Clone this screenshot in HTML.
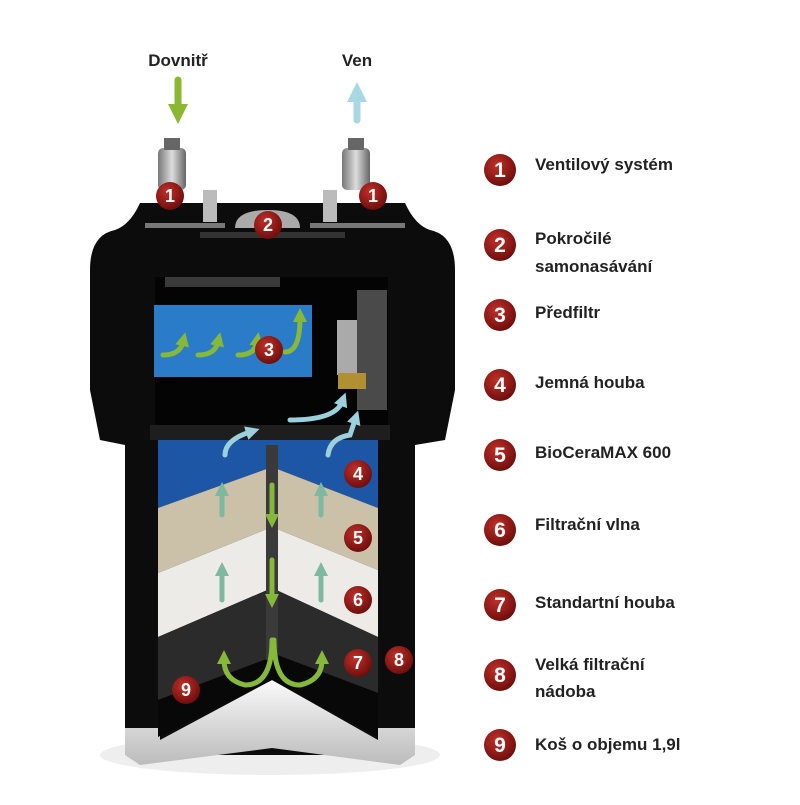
<!DOCTYPE html>
<html><head><meta charset="utf-8"><style>
body{margin:0;background:#fff;width:800px;height:800px;overflow:hidden;font-family:"Liberation Sans",sans-serif}
</style></head><body>
<svg width="800" height="800" viewBox="0 0 800 800" xmlns="http://www.w3.org/2000/svg">
<defs>
<radialGradient id="b" cx="40%" cy="35%" r="70%"><stop offset="0" stop-color="#c0302a"/><stop offset="1" stop-color="#6a0c0a"/></radialGradient>
<linearGradient id="sk" x1="0" y1="0" x2="0" y2="1"><stop offset="0" stop-color="#fafafa"/><stop offset="1" stop-color="#bbb"/></linearGradient>
<linearGradient id="cap" x1="0" y1="0" x2="1" y2="0"><stop offset="0" stop-color="#777"/><stop offset=".5" stop-color="#ddd"/><stop offset="1" stop-color="#666"/></linearGradient>
<marker id="ag" markerUnits="userSpaceOnUse" markerWidth="14" markerHeight="14" refX="4" refY="7" orient="auto"><path d="M0,0L14,7L0,14z" fill="#86b83a"/></marker>
<marker id="ab" markerUnits="userSpaceOnUse" markerWidth="14" markerHeight="14" refX="4" refY="7" orient="auto"><path d="M0,0L14,7L0,14z" fill="#9cd0dc"/></marker>
<marker id="at" markerUnits="userSpaceOnUse" markerWidth="14" markerHeight="14" refX="4" refY="7" orient="auto"><path d="M0,0L14,7L0,14z" fill="#7fb8a0"/></marker>
<marker id="ag2" markerUnits="userSpaceOnUse" markerWidth="20" markerHeight="20" refX="4" refY="10" orient="auto"><path d="M0,0L20,10L0,20z" fill="#8ab832"/></marker>
<marker id="ab2" markerUnits="userSpaceOnUse" markerWidth="20" markerHeight="20" refX="4" refY="10" orient="auto"><path d="M0,0L20,10L0,20z" fill="#a8d8e4"/></marker>
</defs>
<ellipse cx="270" cy="755" rx="170" ry="20" fill="#eee"/>
<path d="M140 203 L405 203 Q415 225 430 230 Q455 235 455 270 L455 390 L445 440 L415 445 L415 745 L400 755 L140 755 L125 745 L125 445 L100 440 L90 390 L90 270 Q90 235 115 230 Q130 225 140 203Z" fill="#0c0c0c"/>
<rect x="145" y="223" width="80" height="5" fill="#777"/>
<rect x="310" y="223" width="95" height="5" fill="#777"/>
<rect x="200" y="232" width="145" height="6" fill="#333"/>
<path d="M235 228 Q235 210 268 210 Q300 210 300 228Z" fill="#aaa"/>
<rect x="203" y="190" width="14" height="32" fill="#bbb"/>
<rect x="323" y="190" width="14" height="32" fill="#bbb"/>
<rect x="158" y="148" width="28" height="42" rx="5" fill="url(#cap)"/>
<rect x="164" y="138" width="16" height="12" fill="#666"/>
<rect x="342" y="148" width="28" height="42" rx="5" fill="url(#cap)"/>
<rect x="348" y="138" width="16" height="12" fill="#666"/>
<rect x="155" y="277" width="233" height="160" fill="#040404"/>
<rect x="165" y="277" width="115" height="10" fill="#3a3a3a"/>
<rect x="154" y="305" width="158" height="72" fill="#2a7cc8"/>
<rect x="357" y="290" width="30" height="120" fill="#4a4a4a"/>
<rect x="337" y="320" width="20" height="55" fill="#aaa"/>
<rect x="338" y="373" width="28" height="16" fill="#b09030"/>
<rect x="150" y="425" width="240" height="15" fill="#1e1e1e"/>
<path d="M125 728 L160 728 L160 740 L272 680 L378 740 L378 728 L415 728 L415 755 L400 765 L272 748 L140 765 L125 755Z" fill="url(#sk)"/>
<polygon points="158,440 272,440 272,467 158,508" fill="#1e56a6"/>
<polygon points="158,508 272,467 272,527 158,573" fill="#cbc0a8"/>
<polygon points="158,573 272,527 272,588 158,637" fill="#ecebe7"/>
<polygon points="158,637 272,588 272,657 158,700" fill="#2b2b2b"/>
<polygon points="158,700 272,657 272,680 158,737" fill="#080808"/>
<polygon points="378,440 272,440 272,467 378,508" fill="#1e56a6"/>
<polygon points="378,508 272,467 272,527 378,570" fill="#cbc0a8"/>
<polygon points="378,570 272,527 272,588 378,637" fill="#ecebe7"/>
<polygon points="378,637 272,588 272,653 378,693" fill="#2b2b2b"/>
<polygon points="378,693 272,653 272,680 378,737" fill="#080808"/>
<rect x="266" y="445" width="12" height="215" fill="#3a3a3a"/>
<g fill="none" stroke-width="5" stroke-linecap="round">
<path d="M272 485 L272 518" stroke="#86b83a" marker-end="url(#ag)"/>
<path d="M272 560 L272 598" stroke="#86b83a" marker-end="url(#ag)"/>
<path d="M272 640 Q272 685 245 685 Q224 680 224 660" stroke="#86b83a" marker-end="url(#ag)"/>
<path d="M274 640 Q274 685 300 685 Q322 680 322 660" stroke="#86b83a" marker-end="url(#ag)"/>
<path d="M222 515 L222 492" stroke="#7fb8a0" marker-end="url(#at)"/>
<path d="M222 600 L222 572" stroke="#7fb8a0" marker-end="url(#at)"/>
<path d="M321 515 L321 492" stroke="#7fb8a0" marker-end="url(#at)"/>
<path d="M321 600 L321 572" stroke="#7fb8a0" marker-end="url(#at)"/>
<path d="M225 455 Q225 440 250 432" stroke="#9cd0dc" marker-end="url(#ab)"/>
<path d="M290 420 Q335 420 342 402" stroke="#9cd0dc" marker-end="url(#ab)"/>
<path d="M328 455 Q330 438 350 435 L355 420" stroke="#9cd0dc" marker-end="url(#ab)"/>
<path d="M163 355 Q180 355 183 342" stroke="#86b83a" marker-end="url(#ag)"/>
<path d="M198 355 Q215 355 218 342" stroke="#86b83a" marker-end="url(#ag)"/>
<path d="M238 355 Q255 355 257 342" stroke="#86b83a" marker-end="url(#ag)"/>
<path d="M285 352 Q300 352 300 318" stroke="#86b83a" marker-end="url(#ag)"/>
<path d="M178 80 L178 108" stroke="#8ab832" stroke-width="7" marker-end="url(#ag2)"/>
<path d="M357 120 L357 98" stroke="#a8d8e4" stroke-width="7" marker-end="url(#ab2)"/>
</g>
<text x="178" y="66" font-size="17" font-weight="bold" text-anchor="middle" fill="#222">Dovnitř</text>
<text x="357" y="66" font-size="17" font-weight="bold" text-anchor="middle" fill="#222">Ven</text>
<g font-size="18" font-weight="bold" fill="#fff" text-anchor="middle">
<circle cx="170" cy="196" r="14" fill="url(#b)"/><text x="170" y="202">1</text>
<circle cx="373" cy="196" r="14" fill="url(#b)"/><text x="373" y="202">1</text>
<circle cx="268" cy="225" r="14" fill="url(#b)"/><text x="268" y="231">2</text>
<circle cx="269" cy="350" r="14" fill="url(#b)"/><text x="269" y="356">3</text>
<circle cx="358" cy="474" r="14" fill="url(#b)"/><text x="358" y="480">4</text>
<circle cx="358" cy="538" r="14" fill="url(#b)"/><text x="358" y="544">5</text>
<circle cx="358" cy="600" r="14" fill="url(#b)"/><text x="358" y="606">6</text>
<circle cx="358" cy="663" r="14" fill="url(#b)"/><text x="358" y="669">7</text>
<circle cx="399" cy="660" r="14" fill="url(#b)"/><text x="399" y="666">8</text>
<circle cx="186" cy="690" r="14" fill="url(#b)"/><text x="186" y="696">9</text>
</g>
<g font-size="21" font-weight="bold" fill="#fff" text-anchor="middle">
<circle cx="500" cy="170" r="16" fill="url(#b)"/><text x="500" y="177">1</text>
<circle cx="500" cy="245" r="16" fill="url(#b)"/><text x="500" y="252">2</text>
<circle cx="500" cy="315" r="16" fill="url(#b)"/><text x="500" y="322">3</text>
<circle cx="500" cy="385" r="16" fill="url(#b)"/><text x="500" y="392">4</text>
<circle cx="500" cy="455" r="16" fill="url(#b)"/><text x="500" y="462">5</text>
<circle cx="500" cy="530" r="16" fill="url(#b)"/><text x="500" y="537">6</text>
<circle cx="500" cy="605" r="16" fill="url(#b)"/><text x="500" y="612">7</text>
<circle cx="500" cy="675" r="16" fill="url(#b)"/><text x="500" y="682">8</text>
<circle cx="500" cy="745" r="16" fill="url(#b)"/><text x="500" y="752">9</text>
</g>
<g font-size="17" font-weight="bold" fill="#222">
<text x="535" y="170">Ventilový systém</text>
<text x="535" y="244">Pokročilé</text>
<text x="535" y="272">samonasávání</text>
<text x="535" y="318">Předfiltr</text>
<text x="535" y="388">Jemná houba</text>
<text x="535" y="458">BioCeraMAX 600</text>
<text x="535" y="530">Filtrační vlna</text>
<text x="535" y="608">Standartní houba</text>
<text x="535" y="670">Velká filtrační</text>
<text x="535" y="697">nádoba</text>
<text x="535" y="750">Koš o objemu 1,9l</text>
</g>
</svg>
</body></html>
